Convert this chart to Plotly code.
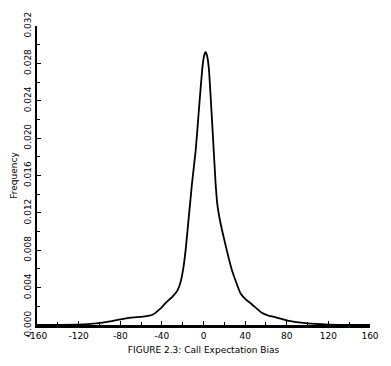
import plotly.graph_objects as go

bias = [-160, -140, -120, -103, -90, -80, -70, -58, -49, -42, -36, -30, -25, -22, -19.5, -17, -14, -11,
        -7.5, -4.3, -1.2, 0.5, 2, 3.5, 5.2, 8.4, 11.6, 13.2, 16, 19.6, 27.5, 35.5, 40, 46.6, 56, 62.5,
        70, 82, 98, 120, 140, 160]
freq = [0.0, 0.00002, 0.00004, 0.00017, 0.00038, 0.0006, 0.0008, 0.0009, 0.0011, 0.0017, 0.0024,
        0.003, 0.0037, 0.0046, 0.0060, 0.0082, 0.0117, 0.0152, 0.0187, 0.0232, 0.0274, 0.0288, 0.0292,
        0.0288, 0.0274, 0.0215, 0.0152, 0.0130, 0.0111, 0.0093, 0.0058, 0.0034, 0.0028, 0.0022, 0.0013,
        0.0010, 0.0008, 0.00045, 0.0002, 0.00005, 0.00002, 0.0]

x_ticks = [-160, -120, -80, -40, 0, 40, 80, 120, 160]
y_ticks = [0.000, 0.004, 0.008, 0.012, 0.016, 0.020, 0.024, 0.028, 0.032]

font = dict(family="DejaVu Sans", size=9, color="black")

fig = go.Figure(go.Scatter(x=bias, y=freq, mode="lines",
                           line=dict(color="black", width=1.8, shape="spline", smoothing=0.4),
                           hoverinfo="skip"))

fig.update_layout(
    width=391, height=366,
    margin=dict(l=37, r=19, t=18, b=40),
    paper_bgcolor="white", plot_bgcolor="white",
    showlegend=False, font=font,
    xaxis=dict(range=[-160, 160], tickvals=x_ticks, ticktext=[str(v) for v in x_ticks],
               showgrid=False, zeroline=False, showline=True, linecolor="black", linewidth=3,
               ticks="inside", ticklen=4, tickcolor="black", tickwidth=1,
               minor=dict(dtick=20, tick0=0, ticks="inside", ticklen=3, tickcolor="black"),
               title=dict(text="FIGURE 2.3: Call Expectation Bias", font=font, standoff=7),
               tickfont=font),
    yaxis=dict(range=[0, 0.032], tickvals=y_ticks, ticktext=["%.3f" % v for v in y_ticks],
               showgrid=False, zeroline=False, showline=True, linecolor="black", linewidth=2,
               ticks="inside", ticklen=4, tickcolor="black", tickwidth=1, tickangle=-90,
               minor=dict(dtick=0.002, tick0=0, ticks="inside", ticklen=3, tickcolor="black"),
               title=dict(text="Frequency", font=font, standoff=4),
               tickfont=font),
)

fig.write_html("out.html")
